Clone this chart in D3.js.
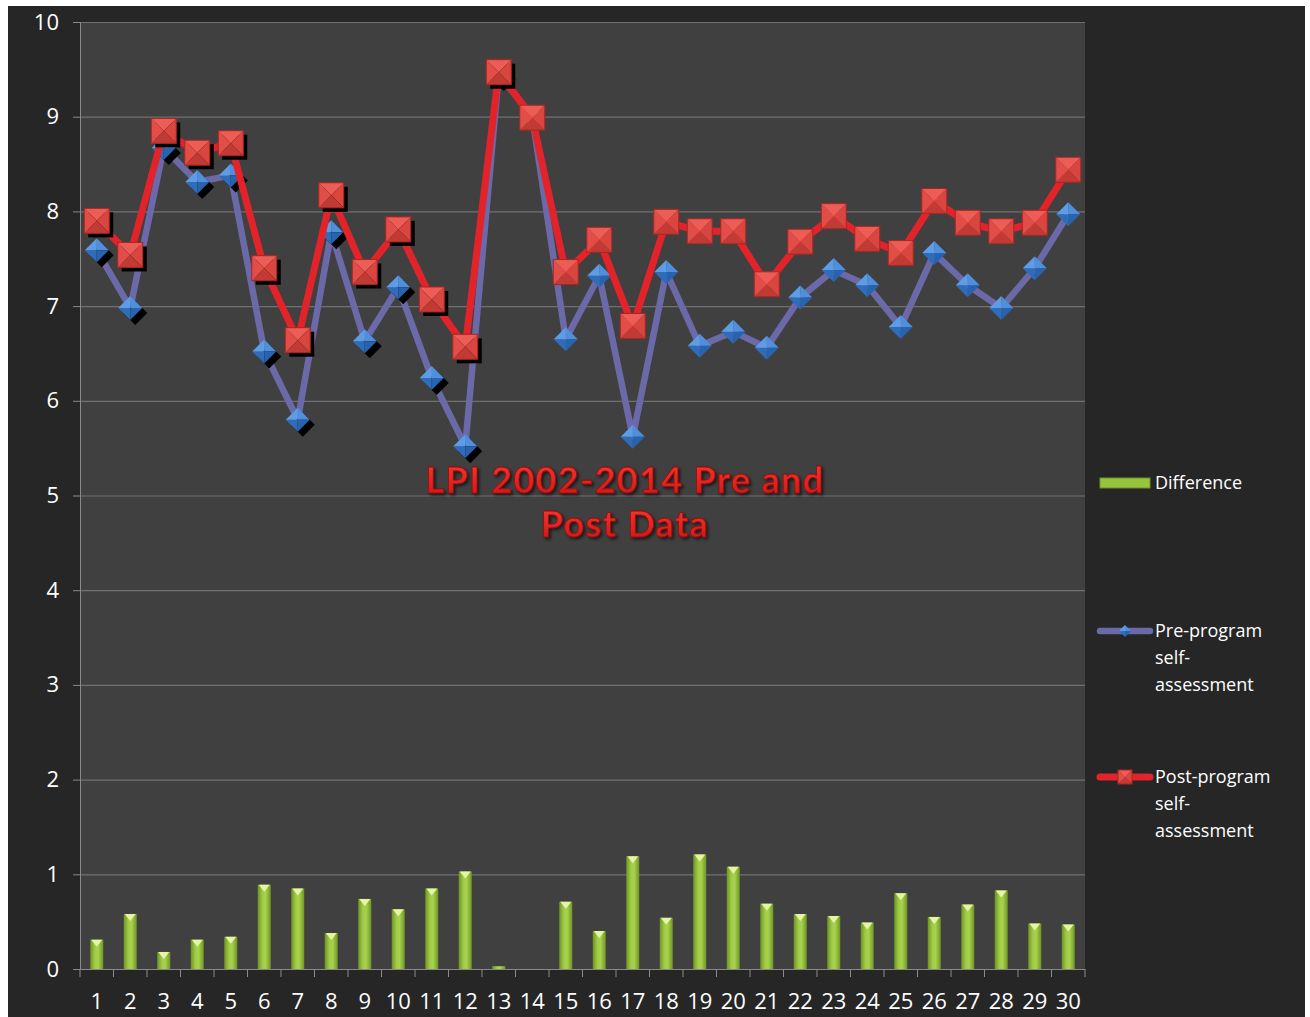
<!DOCTYPE html>
<html>
<head>
<meta charset="utf-8">
<script src="https://cdn.jsdelivr.net/npm/d3@7"></script>
<style>
  html, body { margin: 0; padding: 0; background: #fff; }
  svg { display: block; }
  text { font-family: "Open Sans", "DejaVu Sans", sans-serif; }
</style>
</head>
<body>
<svg id="chart"></svg>
<script>
// Values
var categories = d3.range(1, 31).map(String);
var preValues = [7.59, 6.98, 8.67, 8.31, 8.38, 6.52, 5.80, 7.78, 6.63, 7.20,
                 6.24, 5.52, 9.45, 9.00, 6.65, 7.32, 5.62, 7.36, 6.58, 6.73,
                 6.56, 7.09, 7.38, 7.22, 6.78, 7.56, 7.22, 6.98, 7.40, 7.97];
var postValues = [7.90, 7.54, 8.85, 8.62, 8.72, 7.40, 6.64, 8.17, 7.36, 7.81,
                  7.07, 6.57, 9.47, 8.99, 7.36, 7.70, 6.79, 7.89, 7.79, 7.79,
                  7.23, 7.68, 7.95, 7.71, 7.56, 8.11, 7.88, 7.79, 7.88, 8.44];
var diffValues = [0.31, 0.58, 0.18, 0.31, 0.34, 0.89, 0.85, 0.38, 0.74, 0.63,
                  0.85, 1.03, 0.03, 0.00, 0.71, 0.40, 1.19, 0.54, 1.21, 1.08,
                  0.69, 0.58, 0.56, 0.49, 0.80, 0.55, 0.68, 0.83, 0.48, 0.47];
var yTicks = d3.range(0, 11);
var titleLines = ["LPI 2002-2014 Pre and", "Post Data"];
var legendItems = [
  { kind: "bar",  lines: ["Difference"] },
  { kind: "pre",  lines: ["Pre-program", "self-", "assessment"] },
  { kind: "post", lines: ["Post-program", "self-", "assessment"] }
];

var width = 1310, height = 1017;
var plot = { left: 80, right: 1085, top: 22, bottom: 969 };

var svg = d3.select("#chart")
  .attr("width", width)
  .attr("height", height);

var defs = svg.append("defs");

// bar gradient (rounded green cylinder look)
var bg = defs.append("linearGradient").attr("id", "barGrad")
  .attr("x1", "0%").attr("x2", "100%").attr("y1", "0%").attr("y2", "0%");
bg.append("stop").attr("offset", "0%").attr("stop-color", "#6e9424");
bg.append("stop").attr("offset", "35%").attr("stop-color", "#9fcb45");
bg.append("stop").attr("offset", "60%").attr("stop-color", "#a9d24e");
bg.append("stop").attr("offset", "100%").attr("stop-color", "#6f9626");

// title text gradient
var tg = defs.append("linearGradient").attr("id", "titleGrad")
  .attr("x1", "0%").attr("x2", "0%").attr("y1", "0%").attr("y2", "100%");
tg.append("stop").attr("offset", "0%").attr("stop-color", "#ff3b30");
tg.append("stop").attr("offset", "100%").attr("stop-color", "#c81414");

var ts = defs.append("filter").attr("id", "titleShadow")
  .attr("x", "-10%").attr("y", "-20%").attr("width", "120%").attr("height", "150%");
ts.append("feDropShadow").attr("dx", 2).attr("dy", 2).attr("stdDeviation", 1.5)
  .attr("flood-color", "#000").attr("flood-opacity", 0.6);

// outer frame
svg.append("rect")
  .attr("x", 8).attr("y", 6)
  .attr("width", 1297).attr("height", height - 6)
  .attr("fill", "#262626");

svg.append("rect")
  .attr("x", plot.left).attr("y", plot.top)
  .attr("width", plot.right - plot.left).attr("height", plot.bottom - plot.top)
  .attr("fill", "#404040");

// scales
var x = d3.scaleBand()
  .domain(categories)
  .range([plot.left, plot.right])
  .padding(0);

var y = d3.scaleLinear()
  .domain([0, 10])
  .range([plot.bottom, plot.top]);

var cx = function (i) { return x(categories[i]) + x.bandwidth() / 2; };

// grid lines
svg.append("g")
  .selectAll("line")
  .data(yTicks.filter(function (d) { return d > 0; }))
  .enter().append("line")
  .attr("x1", plot.left).attr("x2", plot.right)
  .attr("y1", function (d) { return y(d) + 0.5; })
  .attr("y2", function (d) { return y(d) + 0.5; })
  .attr("stroke", "#707070").attr("stroke-width", 1.2);

// y axis
var yAxis = svg.append("g")
  .attr("transform", "translate(" + plot.left + ",0)")
  .call(d3.axisLeft(y).tickValues(yTicks).tickSize(7).tickPadding(14)
    .tickFormat(d3.format("d")));
yAxis.select(".domain").attr("stroke", "#8a8a8a");
yAxis.selectAll(".tick line").attr("stroke", "#8a8a8a");
yAxis.selectAll("text")
  .attr("fill", "#ffffff")
  .style("font-size", "22px")
  .style("font-family", "'Open Sans', sans-serif");

// x axis: ticks on band boundaries
var xAxis = svg.append("g")
  .attr("transform", "translate(0," + plot.bottom + ")")
  .call(d3.axisBottom(x).tickSize(0).tickPadding(24));
xAxis.select(".domain").attr("stroke", "#8a8a8a");
xAxis.selectAll("text")
  .attr("fill", "#ffffff")
  .style("font-size", "22px")
  .style("font-family", "'Open Sans', sans-serif");

svg.append("g")
  .selectAll("line")
  .data(categories.concat(["end"]))
  .enter().append("line")
  .attr("x1", function (d, i) { return plot.left + i * x.bandwidth(); })
  .attr("x2", function (d, i) { return plot.left + i * x.bandwidth(); })
  .attr("y1", plot.bottom).attr("y2", plot.bottom + 8)
  .attr("stroke", "#8a8a8a");

// difference bars
var barW = 13;
var barData = diffValues.map(function (v, i) { return { v: v, i: i }; });
var bars = svg.append("g").selectAll("g")
  .data(barData)
  .enter().append("g");

bars.append("rect")
  .attr("x", function (d) { return cx(d.i) - barW / 2; })
  .attr("y", function (d) { return y(d.v); })
  .attr("width", barW)
  .attr("height", function (d) { return y(0) - y(d.v); })
  .attr("fill", "url(#barGrad)");

bars.filter(function (d) { return y(0) - y(d.v) > 6; })
  .append("path")
  .attr("d", function (d) {
    var c = cx(d.i), t = y(d.v);
    return "M" + (c - barW / 2 + 1) + "," + t + "L" + (c + barW / 2 - 1) + "," + t +
      "L" + c + "," + (t + 7) + "Z";
  })
  .attr("fill", "#e6f4a6");

// lines
var line = d3.line()
  .x(function (d, i) { return cx(i); })
  .y(function (d) { return y(d); });

svg.append("path")
  .datum(preValues)
  .attr("d", line)
  .attr("fill", "none")
  .attr("stroke", "#6b69a8")
  .attr("stroke-width", 6.5)
  .attr("stroke-linejoin", "round");

// pyramid-shaded diamond marker
function diamond(g, px, py, r) {
  var T = [px, py - r], R = [px + r, py], B = [px, py + r], L = [px - r, py], C = [px, py];
  var faces = [[T, R, C, "#4f8fdb"], [R, B, C, "#2a63ad"], [B, L, C, "#2f6dba"], [L, T, C, "#5c9de6"]];
  faces.forEach(function (f) {
    g.append("path")
      .attr("d", "M" + f[0] + "L" + f[1] + "L" + f[2] + "Z")
      .attr("fill", f[3]);
  });
}

// pyramid-shaded square marker
function square(g, px, py, h) {
  var TL = [px - h, py - h], TR = [px + h, py - h], BR = [px + h, py + h], BL = [px - h, py + h], C = [px, py];
  var faces = [[TL, TR, C, "#ee5d55"], [TR, BR, C, "#d8463f"], [BR, BL, C, "#c23a34"], [BL, TL, C, "#e24e47"]];
  faces.forEach(function (f) {
    g.append("path")
      .attr("d", "M" + f[0] + "L" + f[1] + "L" + f[2] + "Z")
      .attr("fill", f[3]);
  });
  g.append("rect")
    .attr("x", px - h).attr("y", py - h)
    .attr("width", 2 * h).attr("height", 2 * h)
    .attr("fill", "none").attr("stroke", "#a82622").attr("stroke-width", 1);
}

var preMarks = svg.append("g");
preValues.forEach(function (v, i) {
  if (i < 13) {
    var s = 12;
    preMarks.append("path")
      .attr("d", "M" + (cx(i) + 5) + "," + (y(v) + 5 - s) + "l" + s + "," + s + "l" + (-s) + "," + s + "l" + (-s) + "," + (-s) + "Z")
      .attr("fill", "#000");
  }
  diamond(preMarks, cx(i), y(v), 12);
});

svg.append("path")
  .datum(postValues)
  .attr("d", line)
  .attr("fill", "none")
  .attr("stroke", "#e3232a")
  .attr("stroke-width", 7)
  .attr("stroke-linejoin", "round");

var postMarks = svg.append("g");
postValues.forEach(function (v, i) {
  if (i < 13) {
    postMarks.append("rect")
      .attr("x", cx(i) - 12.5 + 4).attr("y", y(v) - 12.5 + 4)
      .attr("width", 25).attr("height", 25)
      .attr("fill", "#000");
  }
  square(postMarks, cx(i), y(v), 12.5);
});

// title
svg.append("g")
  .selectAll("text")
  .data(titleLines)
  .enter().append("text")
  .attr("x", 625)
  .attr("y", function (d, i) { return 493 + i * 44; })
  .attr("text-anchor", "middle")
  .attr("fill", "url(#titleGrad)")
  .attr("stroke", "#9a0d0d")
  .attr("stroke-width", 0.8)
  .attr("filter", "url(#titleShadow)")
  .style("font-family", "Lato, 'Open Sans', sans-serif")
  .style("font-size", "36px")
  .style("font-weight", "bold")
  .style("letter-spacing", "1.3px")
  .text(function (d) { return d; });

// legend
var legendY = [483, 631, 777];
var lg = svg.append("g");
legendItems.forEach(function (item, k) {
  var ly = legendY[k];
  if (item.kind === "bar") {
    lg.append("rect")
      .attr("x", 1100).attr("y", ly - 5)
      .attr("width", 50).attr("height", 10)
      .attr("fill", "#96c43f")
      .attr("stroke", "#6e9424").attr("stroke-width", 1);
  } else if (item.kind === "pre") {
    lg.append("line")
      .attr("x1", 1100).attr("x2", 1150).attr("y1", ly).attr("y2", ly)
      .attr("stroke", "#6b69a8").attr("stroke-width", 6.5).attr("stroke-linecap", "round");
    diamond(lg, 1125, ly, 6);
  } else {
    lg.append("line")
      .attr("x1", 1100).attr("x2", 1150).attr("y1", ly).attr("y2", ly)
      .attr("stroke", "#e3232a").attr("stroke-width", 7).attr("stroke-linecap", "round");
    square(lg, 1125, ly, 7);
  }
  item.lines.forEach(function (t, j) {
    lg.append("text")
      .attr("x", 1155)
      .attr("y", ly + j * 27)
      .attr("dy", "0.35em")
      .attr("fill", "#ffffff")
      .style("font-size", "18px")
      .text(t);
  });
});
</script>
</body>
</html>
